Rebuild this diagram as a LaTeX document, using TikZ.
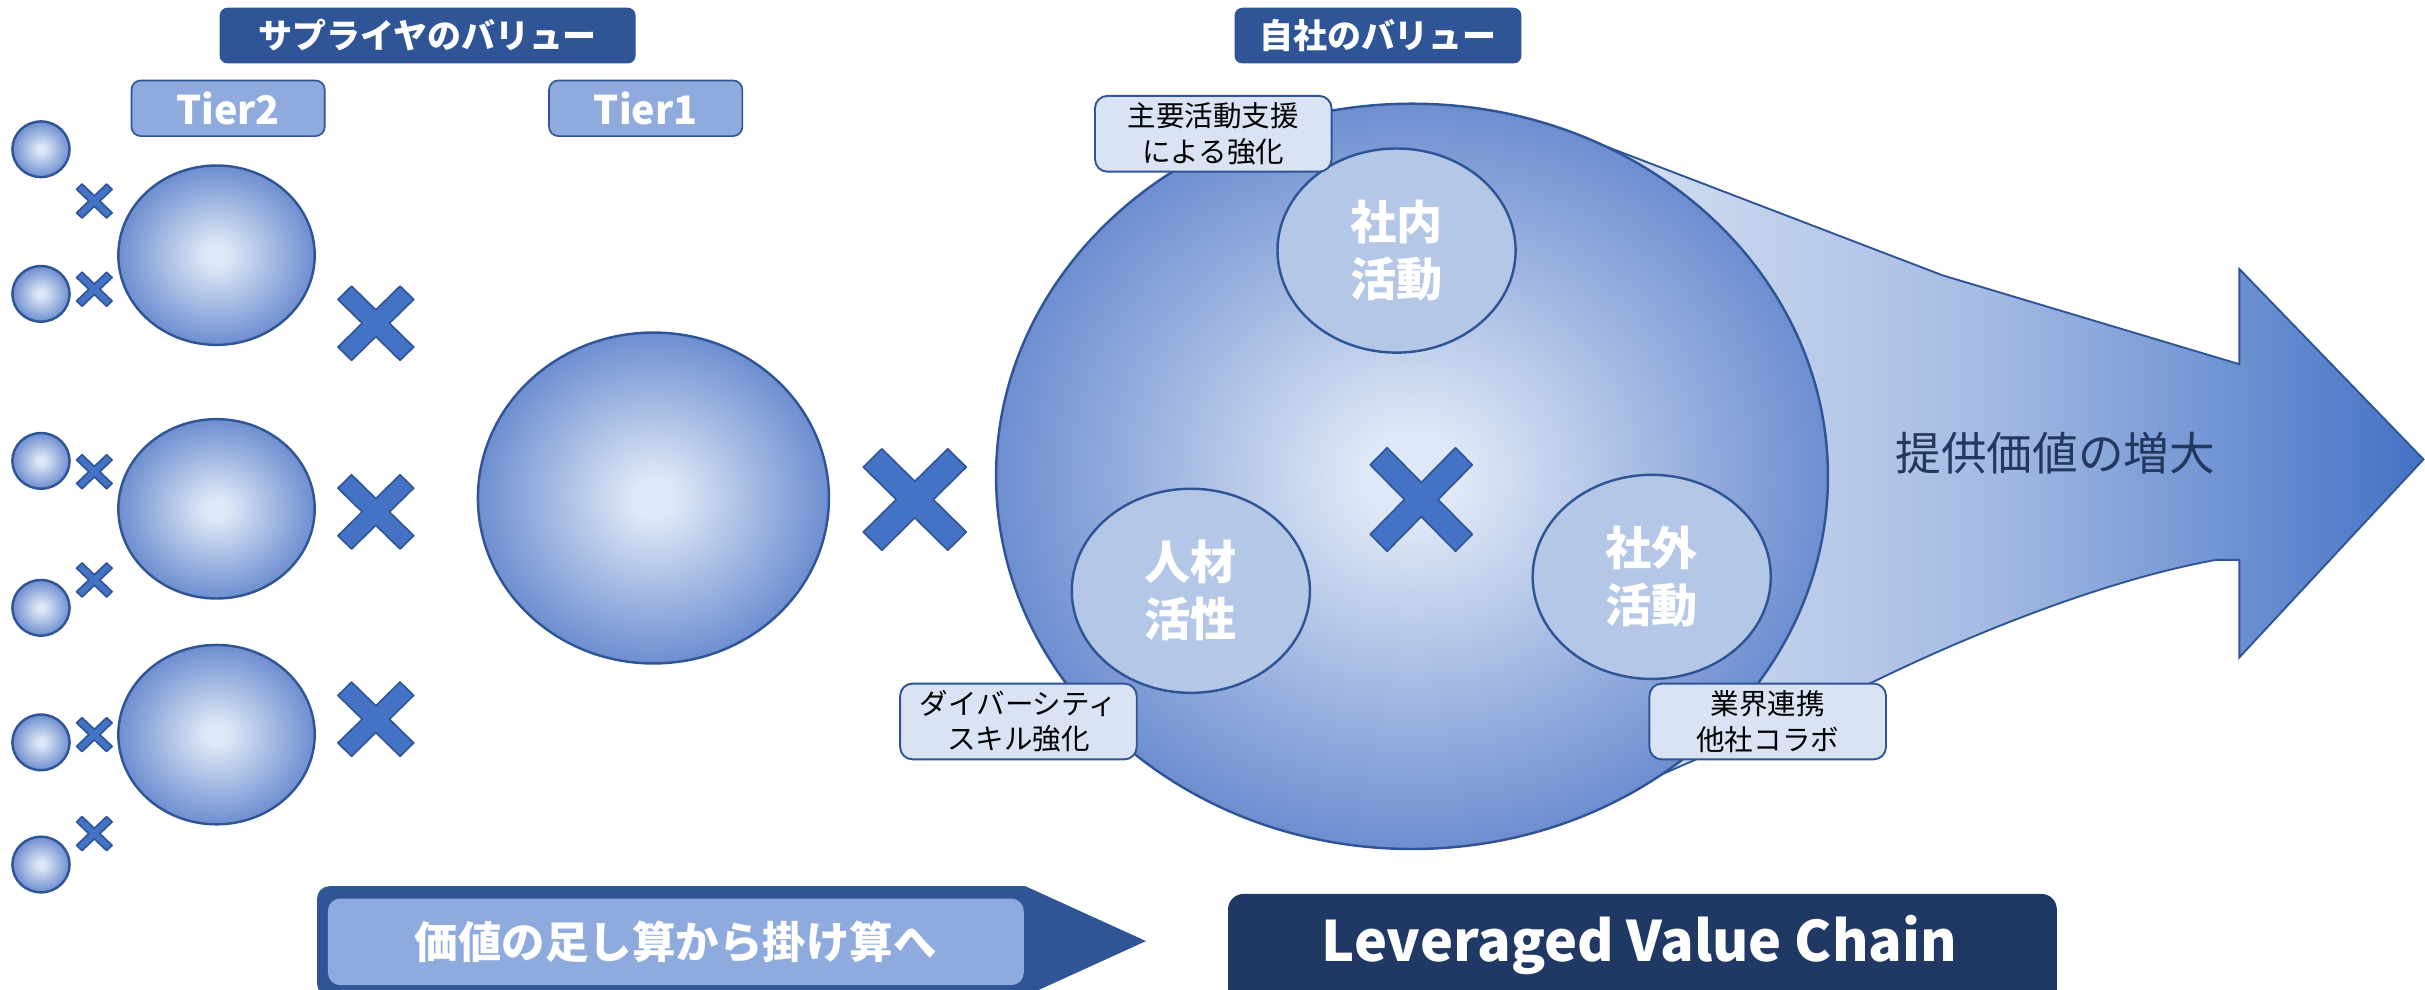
\documentclass[tikz,border=0pt]{standalone}
\usepackage{fontspec}
\setmainfont{Noto Sans CJK JP}
\usetikzlibrary{shapes.geometric}
\definecolor{dkblue}{HTML}{2F5597}
\definecolor{midblue}{HTML}{4472C4}
\definecolor{tierfill}{HTML}{8FAADC}
\definecolor{labelfill}{HTML}{DAE3F3}
\definecolor{innerfill}{HTML}{B4C7E7}
\definecolor{navy}{HTML}{203864}
\definecolor{ballin}{HTML}{DEE8F6}
\definecolor{ballout}{HTML}{6E8ED0}
\definecolor{arrowtext}{HTML}{24375E}
\definecolor{arrowL}{HTML}{DCE6F4}
\definecolor{arrowM}{HTML}{A5BBE3}
\definecolor{arrowR}{HTML}{4472C4}
\pgfdeclareradialshading{ballshade}{\pgfpoint{0bp}{0bp}}{color(0bp)=(ballin); color(3bp)=(ballin); color(25bp)=(ballout); color(50bp)=(ballout)}
\newcommand{\xmk}[5]{%
  \begin{scope}[shift={(#1,#2)}, xscale=#3, yscale=#4]
    \filldraw[xmkstyle] (0,#5) -- ({1-#5},1) -- (1,{1-#5}) -- (#5,0) -- (1,{-(1-#5)}) -- ({1-#5},-1) -- (0,-#5) -- ({-(1-#5)},-1) -- (-1,{-(1-#5)}) -- (-#5,0) -- (-1,{1-#5}) -- ({-(1-#5)},1) -- cycle;
  \end{scope}}
\begin{document}
\begin{tikzpicture}[x=0.02cm, y=-0.02cm,
  hdrbox/.style={rectangle, rounded corners=0.1cm, fill=dkblue, text=white, inner sep=0pt, minimum height=0.72cm, font=\bfseries\fontsize{12.5}{15}\selectfont},
  tierbox/.style={rectangle, rounded corners=0.12cm, fill=tierfill, draw=dkblue, line width=0.6pt, text=white, minimum width=2.5cm, minimum height=0.72cm, inner sep=0pt, font=\bfseries\fontsize{14.5}{17}\selectfont},
  bubble/.style={ellipse, draw=dkblue, line width=0.9pt, shade, shading=ballshade, inner sep=0pt},
  innerbubble/.style={ellipse, draw=dkblue, line width=0.9pt, fill=innerfill, inner sep=0pt, minimum width=3.08cm, minimum height=2.64cm, text=white, align=center, font=\bfseries\fontsize{17}{21}\selectfont},
  notebox/.style={rectangle, rounded corners=0.16cm, fill=labelfill, draw=dkblue, line width=0.7pt, minimum width=3.06cm, minimum height=0.98cm, inner sep=0pt, align=center, font=\fontsize{10.5}{13}\selectfont},
  xmkstyle/.style={fill=midblue, draw=dkblue, line width=0.6pt, line join=round}
]
\useasboundingbox (0,0) rectangle (1568,640);
\fill[white] (0,0) rectangle (1568,640);

% headers
\node[hdrbox, minimum width=5.38cm] (suphdr) at (276.5,23) {サプライヤのバリュー};
\node[hdrbox, minimum width=3.71cm] (ownhdr) at (891,23) {自社のバリュー};
\node[tierbox] (tier2) at (147.5,70) {Tier2};
\node[tierbox] (tier1) at (417.5,70) {Tier1};

% small circles
\foreach \i/\yy in {1/96.5, 2/190, 3/298, 4/393, 5/480, 6/559}
  {\node[bubble, minimum width=0.74cm, minimum height=0.72cm] (s\i) at (26.5,\yy) {};}
% small x marks
\foreach \yy in {130, 187, 305, 375, 475, 539}
  {\xmk{61}{\yy}{11.5}{11}{0.31}}

% tier2 ellipses
\foreach \i/\yy in {1/165, 2/329, 3/475}
  {\node[bubble, minimum width=2.54cm, minimum height=2.32cm] (t2\i) at (140,\yy) {};}
% big X between tier2 and tier1
\foreach \yy in {209, 331, 465}
  {\xmk{243}{\yy}{24.5}{24}{0.36}}

% tier1
\node[bubble, minimum width=4.54cm, minimum height=4.28cm] (t1) at (422.5,322) {};
\xmk{591.5}{323}{33.3}{32.8}{0.36}

% value arrow
\path[draw=dkblue, line width=0.7pt, left color=arrowL, right color=arrowR, middle color=arrowM]
  (1034,93) -- (1256,178) -- (1448,235.5) -- (1448,174) -- (1567,297) -- (1448,425) -- (1448,362) -- (1433,362)
  .. controls (1360,375) and (1270,412) .. (1211,441) -- (1067,504) -- (1000,450) -- (1000,120) -- cycle;
\node[font=\fontsize{16.8}{20}\selectfont, text=arrowtext] (gain) at (1329,293) {提供価値の増大};

% own company
\node[bubble, minimum width=10.76cm, minimum height=9.64cm] (own) at (913,308) {};
\node[innerbubble] (inside) at (903,162) {社内\\活動};
\node[innerbubble] (people) at (770,382) {人材\\活性};
\node[innerbubble] (outside) at (1068,373) {社外\\活動};
\xmk{919}{323}{33}{33.5}{0.33}

\node[notebox] (n1) at (784.5,86.5) {主要活動支援\\による強化};
\node[notebox] (n2) at (658.5,466.5) {ダイバーシティ\\スキル強化};
\node[notebox] (n3) at (1143,466.5) {業界連携\\他社コラボ};

% bottom
\path[fill=dkblue] (400,573) -- (663,573) -- (741,608.5) -- (663,644) [rounded corners=0.16cm] -- (205,644) -- (205,573) -- cycle;
\node[rectangle, rounded corners=0.16cm, fill=tierfill, minimum width=9.0cm, minimum height=1.12cm, inner sep=0pt, text=white, font=\bfseries\fontsize{16}{19}\selectfont] (addmul) at (437,609) {価値の足し算から掛け算へ};
\node[rectangle, rounded corners=0.2cm, fill=navy, minimum width=10.72cm, minimum height=1.54cm, inner sep=0pt] (lvcbox) at (1062,616.5) {};
\node[text=white, font=\bfseries\fontsize{20.5}{24}\selectfont] (lvc) at (1060,611) {Leveraged Value Chain};
\end{tikzpicture}
\end{document}
